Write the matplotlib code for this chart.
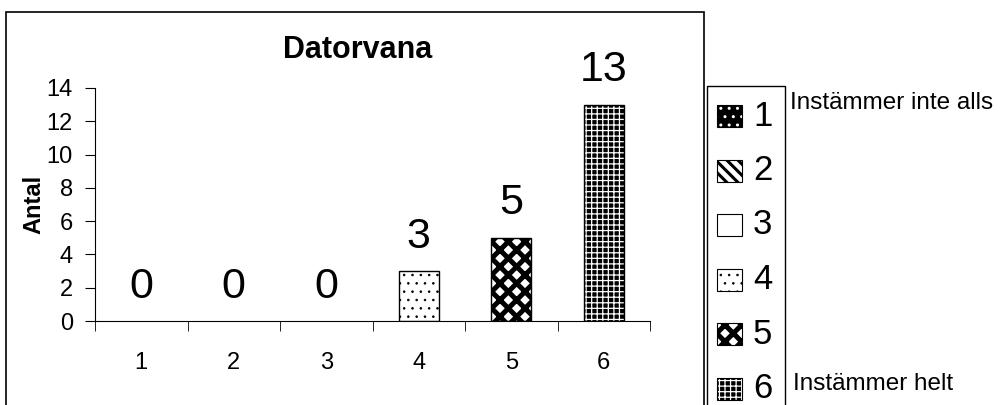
import matplotlib.pyplot as plt
from matplotlib.patches import Rectangle

plt.rcParams['font.family'] = ['Liberation Sans', 'DejaVu Sans']

# Antal svar per skalsteg
categories = ["1", "2", "3", "4", "5", "6"]
counts = [0, 0, 0, 3, 5, 13]
yticks = [0, 2, 4, 6, 8, 10, 12, 14]
scale_low = "Instämmer inte alls"
scale_high = "Instämmer helt"

# fill / hatch per category: face, hatch, hatch colour, hatch linewidth
styles = [
    ("black", "..", "white", 1.0),
    ("white", "\\\\\\", "black", 2.2),
    ("white", "", "black", 1.0),
    ("white", "..", "black", 0.6),
    ("white", "xx", "black", 3.6),
    ("black", "+++", "white", 0.9),
]

W, H = 1003, 405
fig = plt.figure(figsize=(W / 100, H / 100), dpi=100)
ax = fig.add_axes([95 / W, 1 - 321 / H, 555 / W, 233 / H])

x = list(range(1, len(categories) + 1))
for xi, n, (fc, h, hc, hlw) in zip(x, counts, styles):
    plt.rcParams['hatch.linewidth'] = hlw
    if n > 0:
        ax.bar(xi, n, width=0.43, color=fc, edgecolor=hc, hatch=h, linewidth=0)
        ax.bar(xi, n, width=0.43, color="none", edgecolor="black", linewidth=1.0)
    ax.text(xi, n + 1.4, str(n), ha="center", va="baseline", fontsize=31)

ax.set_xlim(0.5, 6.5)
ax.set_ylim(0, 14)
ax.set_yticks(yticks)
ax.set_xticks(x)
ax.set_xticklabels(categories)
ax.set_xticks([i + 0.5 for i in range(0, 7)], minor=True)
ax.tick_params(axis="x", which="major", length=0, pad=22, labelsize=17)
ax.tick_params(axis="x", which="minor", length=7, direction="out")
ax.tick_params(axis="y", length=7, direction="out", labelsize=17, pad=9)
for s in ["top", "right"]:
    ax.spines[s].set_visible(False)
ax.spines["left"].set_linewidth(0.8)
ax.spines["bottom"].set_linewidth(0.8)

fig.text(358 / W, 1 - 50 / H, "Datorvana", ha="center", va="center",
         fontsize=22, fontweight="bold")
ax.set_ylabel("Antal", fontsize=17, fontweight="bold")
ax.yaxis.set_label_coords(-0.09, 0.5)

# chart frame
fig.patches.append(Rectangle((6 / W, -0.1), 698 / W, 1.1 - 12 / H,
                             transform=fig.transFigure, fill=False,
                             edgecolor="black", linewidth=1.2))

# legend box
fig.patches.append(Rectangle((707 / W, -0.1), 78 / W, 0.1 + 1 - 86 / H,
                             transform=fig.transFigure, fill=False,
                             edgecolor="black", linewidth=1.0))
for i, (cat, (fc, h, hc, hlw)) in enumerate(zip(categories, styles)):
    yc = 116 + i * 54.5
    plt.rcParams['hatch.linewidth'] = hlw
    fig.patches.append(Rectangle((717 / W, 1 - (yc + 11) / H), 25 / W, 22 / H,
                                 transform=fig.transFigure, facecolor=fc,
                                 edgecolor=hc, hatch=h, linewidth=0))
    fig.patches.append(Rectangle((717 / W, 1 - (yc + 11) / H), 25 / W, 22 / H,
                                 transform=fig.transFigure, fill=False,
                                 edgecolor="black", linewidth=0.8))
    fig.text(753 / W, 1 - yc / H, cat, ha="left", va="center", fontsize=25)

fig.text(790 / W, 1 - 103 / H, scale_low, ha="left", va="center", fontsize=17.5)
fig.text(793 / W, 1 - 384 / H, scale_high, ha="left", va="center", fontsize=17.5)

fig.savefig("out.png", dpi=100)
